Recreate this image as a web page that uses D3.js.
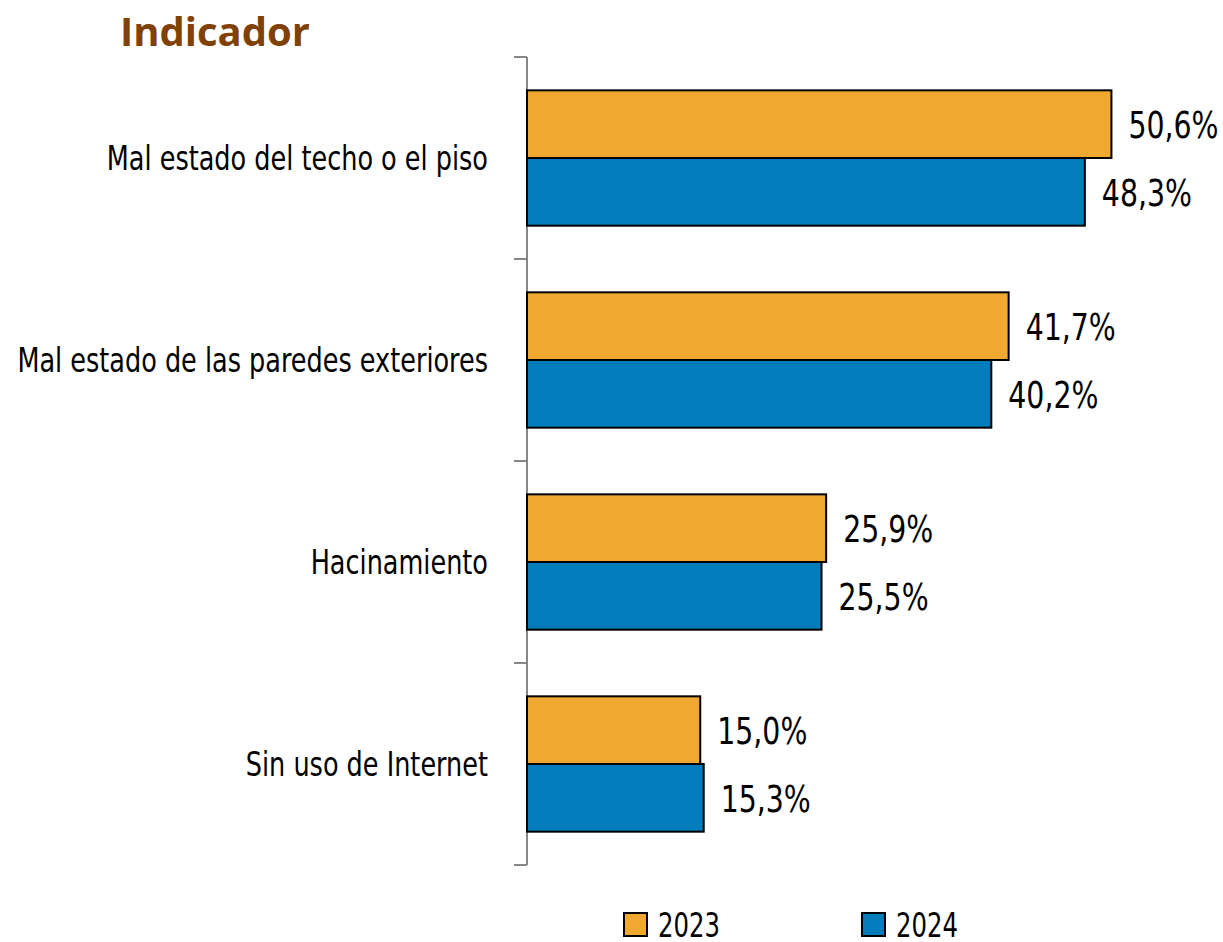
<!DOCTYPE html>
<meta charset="utf-8">
<style>
  body { margin: 0; background: #fff; }
  text { font-family: "Liberation Sans Narrow", "DejaVu Sans Condensed", sans-serif; }
</style>
<body>
  <script src="https://cdn.jsdelivr.net/npm/d3@7"></script>
  <script>
    var categories = ["Mal estado del techo o el piso",
                      "Mal estado de las paredes exteriores",
                      "Hacinamiento",
                      "Sin uso de Internet"];
    var years = ["2023", "2024"];
    var values2023 = [50.6, 41.7, 25.9, 15.0];
    var values2024 = [48.3, 40.2, 25.5, 15.3];
    var colors = ["#F0A830", "#007DBA"];

    var width = 1223, height = 942;

    var svg = d3.select("body").append("svg")
        .attr("width", width)
        .attr("height", height);

    var x = d3.scaleLinear().domain([0, 60]).range([527, 527 + 60 * 11.55]);
    var y = d3.scaleBand().domain(categories).range([57, 865]).paddingInner(0.33).paddingOuter(0.165);
    var ySub = d3.scaleBand().domain(years).range([0, y.bandwidth()]);

    var rows = categories.map(function(c, i) {
      return { cat: c, vals: [values2023[i], values2024[i]] };
    });

    // narrow text: no condensed font here, so squeeze horizontally
    function narrow(sel, sx) {
      return sel.attr("transform", function() {
        var t = d3.select(this);
        var tx = +t.attr("x"), ty = +t.attr("y");
        t.attr("x", 0).attr("y", 0);
        return "translate(" + tx + "," + ty + ") scale(" + sx + ",1)";
      });
    }

    // title
    svg.append("text")
        .attr("x", 120).attr("y", 46)
        .style("font-family", "'Open Sans', 'Noto Sans', sans-serif")
        .style("font-weight", "bold")
        .style("font-size", "40px")
        .attr("fill", "#7F4104")
        .text("Indicador");

    // axis with ticks at group boundaries
    var tickY = d3.range(categories.length + 1).map(function(i) {
      return 57 + i * (808 / categories.length);
    });
    var axis = svg.append("g");
    axis.append("line")
        .attr("x1", x(0)).attr("x2", x(0))
        .attr("y1", tickY[0]).attr("y2", tickY[tickY.length - 1])
        .attr("stroke", "#878787").attr("stroke-width", 2);
    axis.selectAll(".tick").data(tickY).enter().append("line")
        .attr("x1", x(0) - 13).attr("x2", x(0))
        .attr("y1", function(d) { return d; }).attr("y2", function(d) { return d; })
        .attr("stroke", "#878787").attr("stroke-width", 2);

    // category labels
    svg.selectAll(".cat").data(categories).enter().append("text")
        .attr("x", 488)
        .attr("y", function(d) { return y(d) + y.bandwidth() / 2; })
        .attr("dy", "0.35em")
        .attr("text-anchor", "end")
        .style("font-size", "34px")
        .text(function(d) { return d; })
        .call(narrow, 0.835);

    var groups = svg.selectAll(".grp").data(rows).enter().append("g")
        .attr("transform", function(d) { return "translate(0," + y(d.cat) + ")"; });

    groups.selectAll("rect").data(function(d) { return d.vals; }).enter().append("rect")
        .attr("x", x(0))
        .attr("y", function(d, i) { return ySub(years[i]); })
        .attr("width", function(d) { return x(d) - x(0); })
        .attr("height", ySub.bandwidth())
        .attr("fill", function(d, i) { return colors[i]; })
        .attr("stroke", "#000").attr("stroke-width", 2);

    groups.selectAll(".val").data(function(d) { return d.vals; }).enter().append("text")
        .attr("x", function(d) { return x(d) + 17; })
        .attr("y", function(d, i) { return ySub(years[i]) + ySub.bandwidth() / 2; })
        .attr("dy", "0.36em")
        .style("font-size", "38px")
        .text(function(d) { return d.toFixed(1).replace(".", ",") + "%"; })
        .call(narrow, 0.83);

    // legend
    var legX = [624, 862];
    var leg = svg.selectAll(".leg").data(years).enter().append("g")
        .attr("transform", function(d, i) { return "translate(" + legX[i] + ",913)"; });
    leg.append("rect")
        .attr("width", 23).attr("height", 23)
        .attr("fill", function(d, i) { return colors[i]; })
        .attr("stroke", "#000").attr("stroke-width", 2);
    leg.append("text")
        .attr("x", 34).attr("y", 12).attr("dy", "0.35em")
        .style("font-size", "33px")
        .text(function(d) { return d; })
        .call(narrow, 0.82);
  </script>
</body>
